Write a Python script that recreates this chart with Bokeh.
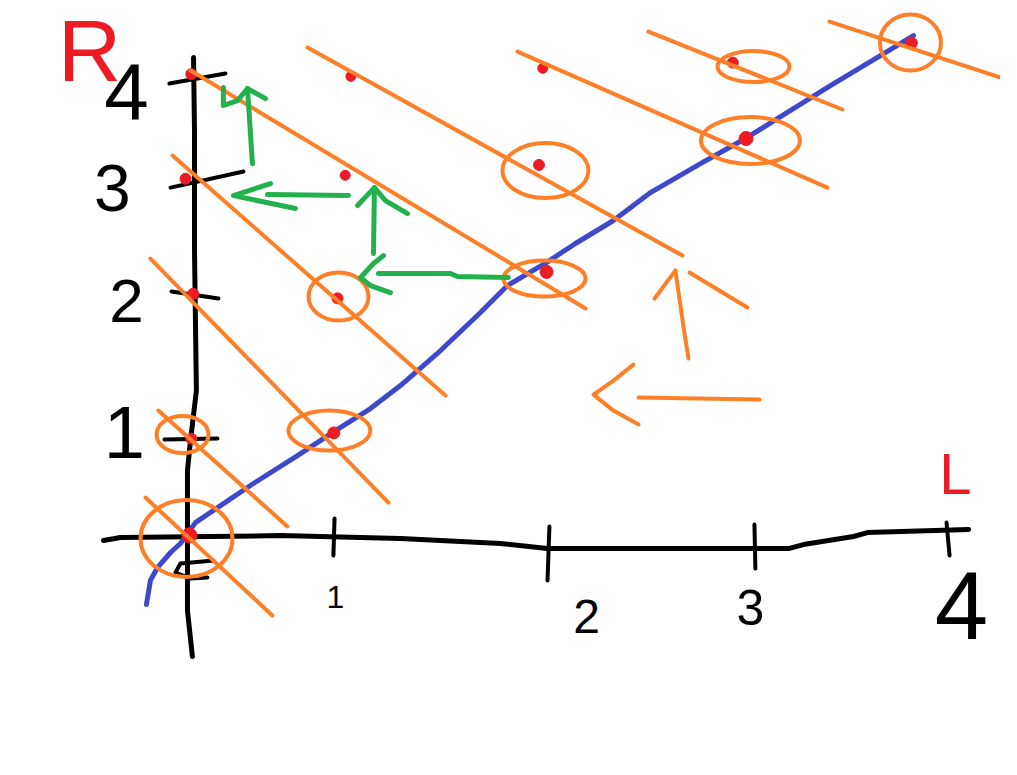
from bokeh.plotting import figure
from bokeh.models import Range1d, ColumnDataSource
from bokeh.core.properties import value
from bokeh.embed import file_html
from bokeh.resources import INLINE

# ---------------- data (L across, R up) ----------------
# hand-drawn axes
axis_L_x = [-0.442, -0.353, 0.489, 1.121, 1.647, 1.895, 3.163, 3.242, 3.505, 3.579, 4.111]
axis_L_y = [-0.026, 0.0, 0.017, -0.009, -0.052, -0.096, -0.096, -0.061, 0.009, 0.043, 0.070]
axis_R_x = [0.032, 0.037, 0.037, 0.047, 0.016, 0.0, 0.0, 0.026]
axis_R_y = [4.174, 3.539, 2.496, 1.278, 0.843, 0.583, -0.635, -1.035]

# tick marks (start/end)
tick_L_x0 = [0.774, 1.905, 2.984, 3.995]
tick_L_y0 = [0.165, 0.096, 0.113, 0.130]
tick_L_x1 = [0.768, 1.895, 2.989, 4.011]
tick_L_y1 = [-0.157, -0.374, -0.270, -0.157]
tick_R_x0 = [-0.121, -0.084, -0.089, -0.095]
tick_R_y0 = [0.852, 2.139, 3.043, 3.948]
tick_R_x1 = [0.158, 0.163, 0.295, 0.200]
tick_R_y1 = [0.861, 2.078, 3.183, 4.035]
zero_mark_x = [0.137, -0.037, -0.063, 0.016, 0.105]
zero_mark_y = [-0.200, -0.226, -0.304, -0.357, -0.348]

# tick labels
tick_labels = ["1", "2", "3", "4", "1", "2", "3", "4"]
tick_label_x = [0.779, 2.100, 2.963, 4.074, -0.332, -0.321, -0.395, -0.321]
tick_label_y = [-0.513, -0.687, -0.609, -0.591, 0.913, 2.061, 3.043, 3.878]
tick_label_size = ["32px", "48px", "50px", "96px", "74px", "62px", "66px", "80px"]

axis_names = ["R", "L"]
axis_name_x = [-0.516, 4.042]
axis_name_y = [4.235, 0.557]
axis_name_size = ["88px", "58px"]

# red input combinations
pt_L = [0.01, 0.02, 0.03, -0.01, 0.02, 0.77, 0.79, 0.83, 0.86, 1.89, 1.85, 1.87, 2.94, 2.87, 3.81]
pt_R = [0.02, 0.86, 2.12, 3.12, 4.03, 0.91, 2.08, 3.15, 4.01, 2.31, 3.24, 4.08, 3.47, 4.13, 4.30]
pt_size = [15, 11, 11, 11, 11, 12, 11, 10, 10, 13, 11, 10, 14, 11, 12]

# orange circled combinations
circ_L = [-0.005, -0.026, 0.747, 0.795, 1.879, 1.884, 2.963, 2.979, 3.805]
circ_R = [-0.009, 0.896, 0.930, 2.096, 2.252, 3.191, 3.452, 4.096, 4.304]
circ_w = [92, 52, 82, 60, 82, 86, 99, 72, 61]
circ_h = [77, 37, 40, 48, 36, 55, 47, 31, 56]

# orange isoquant-like lines
iso_L = [[-0.221, 0.447], [-0.153, 0.526], [-0.195, 1.058], [-0.079, 1.358],
         [0.016, 2.095], [0.632, 2.605], [1.737, 3.368], [2.426, 3.447], [3.379, 4.358]]
iso_R = [[0.348, -0.678], [1.104, 0.096], [2.426, 0.304], [3.322, 1.235],
         [4.061, 1.991], [4.261, 2.452], [4.226, 3.043], [4.400, 3.722], [4.487, 3.957]]

# blue expansion path
path_L = [-0.216, -0.195, -0.158, -0.089, -0.037, 0.042, 0.174, 0.347, 0.579, 0.779,
          0.963, 1.121, 1.332, 1.542, 1.684, 1.889, 2.042, 2.242, 2.437, 2.700,
          2.937, 3.132, 3.384, 3.647, 3.821]
path_R = [-0.583, -0.374, -0.261, -0.130, -0.052, 0.130, 0.278, 0.470, 0.713, 0.930,
          1.122, 1.322, 1.626, 1.957, 2.191, 2.391, 2.557, 2.757, 3.000, 3.252,
          3.470, 3.670, 3.930, 4.191, 4.365]

# green arrows (shafts and heads)
g_shaft_L = [[0.342, 0.316], [0.847, 0.421], [0.979, 0.984], [1.689, 1.421, 1.384, 1.005]]
g_shaft_R = [[3.252, 3.904], [2.974, 2.983], [2.470, 3.043], [2.261, 2.270, 2.296, 2.296]]
g_head_L = [[0.189, 0.189, 0.263, 0.316, 0.411], [0.437, 0.242, 0.568],
            [0.895, 0.984, 1.042, 1.158], [1.032, 0.979, 0.911, 0.963, 1.068]]
g_head_R = [[3.913, 3.757, 3.800, 3.904, 3.817], [3.078, 2.974, 2.861],
            [2.887, 3.043, 2.930, 2.817], [2.452, 2.383, 2.261, 2.191, 2.130]]

# orange arrows
o_shaft_L = [[2.637, 2.611, 2.568], [3.011, 2.374]]
o_shaft_R = [[1.557, 1.826, 2.322], [1.200, 1.217]]
o_head_L = [[2.458, 2.568], [2.642, 2.947], [2.347, 2.242, 2.137, 2.242, 2.374]]
o_head_R = [[2.078, 2.322], [2.304, 2.000], [1.504, 1.365, 1.243, 1.104, 0.983]]

# ---------------- styles ----------------
BLACK = "#000000"
RED = "#ED1C24"
ORANGE = "#FF7F27"
GREEN = "#22B14C"
BLUE = "#3F48CC"

p = figure(width=1000, height=756, output_backend="svg", toolbar_location=None,
           x_range=Range1d(-0.984, 4.279), y_range=Range1d(-1.904, 4.670),
           x_axis_type=None, y_axis_type=None, min_border=0,
           outline_line_color=None, background_fill_color="white",
           border_fill_color="white")
p.grid.visible = False

common = dict(line_cap="round", line_join="round")

# axes
p.line(axis_L_x, axis_L_y, line_color=BLACK, line_width=5, **common)
p.line(axis_R_x, axis_R_y, line_color=BLACK, line_width=5, **common)
p.segment(tick_L_x0, tick_L_y0, tick_L_x1, tick_L_y1, line_color=BLACK, line_width=4, **common)
p.segment(tick_R_x0, tick_R_y0, tick_R_x1, tick_R_y1, line_color=BLACK, line_width=4, **common)
p.line(zero_mark_x, zero_mark_y, line_color=BLACK, line_width=4, **common)

# blue path
p.line(path_L, path_R, line_color=BLUE, line_width=5, **common)

# red points
p.scatter(pt_L, pt_R, size=pt_size, marker="circle", fill_color=RED, line_color=RED)

# orange isoquants
p.multi_line(iso_L, iso_R, line_color=ORANGE, line_width=4, **common)

# orange circles
p.ellipse(x=circ_L, y=circ_R, width=circ_w, height=circ_h,
          width_units="screen", height_units="screen",
          fill_color=None, line_color=ORANGE, line_width=4)

# green arrows
p.multi_line(g_shaft_L, g_shaft_R, line_color=GREEN, line_width=5, **common)
p.multi_line(g_head_L, g_head_R, line_color=GREEN, line_width=5, **common)

# orange arrows
p.multi_line(o_shaft_L, o_shaft_R, line_color=ORANGE, line_width=4, **common)
p.multi_line(o_head_L, o_head_R, line_color=ORANGE, line_width=4, **common)

# tick labels
tl = ColumnDataSource(dict(x=tick_label_x, y=tick_label_y, t=tick_labels, s=tick_label_size))
p.text(x="x", y="y", text="t", text_font_size="s", source=tl,
       text_font=value("Liberation Sans"), text_color=BLACK,
       text_align="center", text_baseline="middle")

an = ColumnDataSource(dict(x=axis_name_x, y=axis_name_y, t=axis_names, s=axis_name_size))
p.text(x="x", y="y", text="t", text_font_size="s", source=an,
       text_font=value("Liberation Sans"), text_color=RED,
       text_align="center", text_baseline="middle")

open("out.html", "w").write(file_html(p, INLINE))
